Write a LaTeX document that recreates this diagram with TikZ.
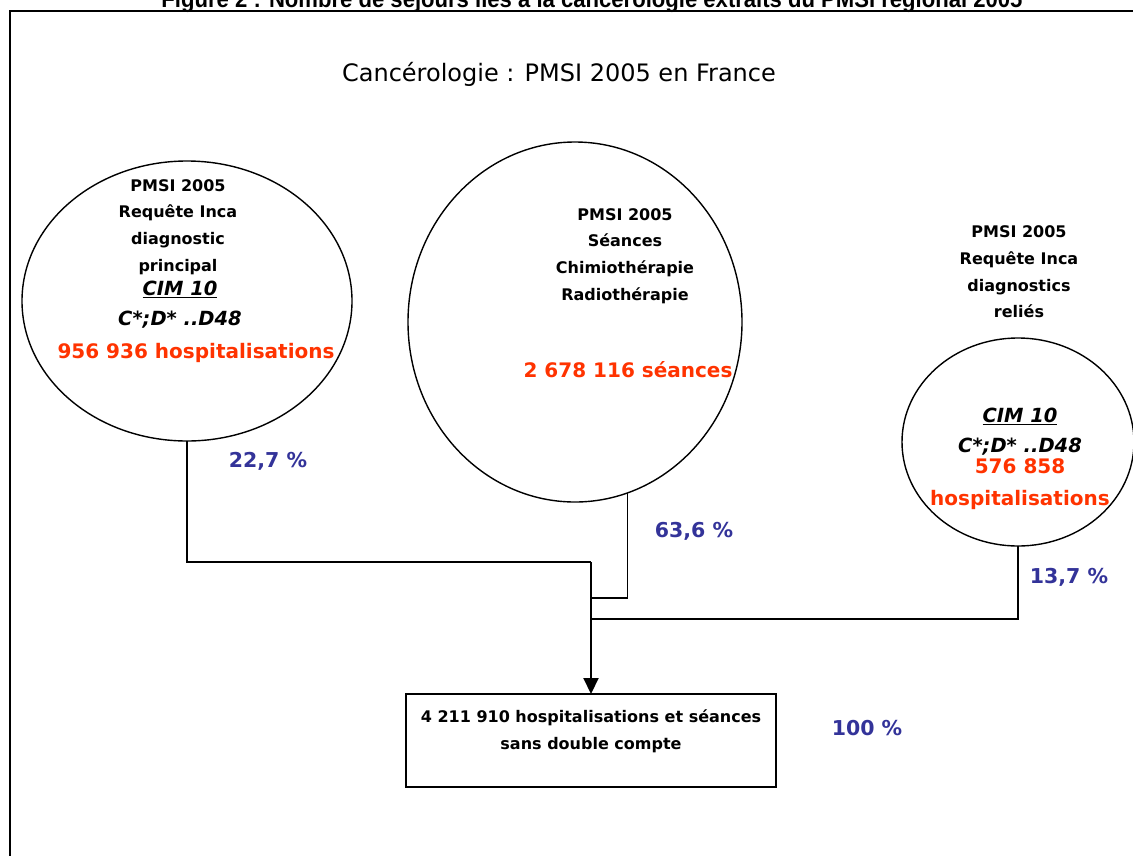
\documentclass[tikz,border=0pt]{standalone}
\usepackage{fontspec}
\setmainfont{DejaVu Sans}
\newfontfamily\titrefont[FakeStretch=0.92]{Liberation Sans}
\usetikzlibrary{shapes.geometric,arrows.meta}
\definecolor{rougeval}{RGB}{255,51,0}
\definecolor{bleupct}{RGB}{51,51,153}
\begin{document}
\begin{tikzpicture}[x=1pt,y=-1pt,
    bulle/.style={draw,ellipse,line width=1.4pt,inner sep=0pt,outer sep=0pt},
    texte/.style={align=center,font=\bfseries\fontsize{16}{26.6}\selectfont},
    cim/.style={align=center,font=\bfseries\itshape\fontsize{19.5}{30}\selectfont},
    valeur/.style={text=rougeval,align=center,font=\bfseries\fontsize{20}{32}\selectfont},
    pct/.style={text=bleupct,font=\bfseries\fontsize{20.5}{24}\selectfont},
    lien/.style={line width=1.3pt}]
    \useasboundingbox (0,0) rectangle (1133,855);
    \draw[line width=2.5pt] (10,870)--(10,11)--(1150,11);
    \node[anchor=base,font=\titrefont\bfseries\fontsize{24}{28}\selectfont] (figure) at (592,7)
        {Figure 2 : Nombre de séjours liés à la cancérologie extraits du PMSI régional 2005};
    \node[font=\fontsize{24}{28}\selectfont] (titre) at (559,74) {Cancérologie : PMSI 2005 en France};
    % les trois sources
    \node[bulle,minimum width=330pt,minimum height=280pt] (gauche) at (187,301) {};
    \node[bulle,minimum width=334pt,minimum height=360pt] (centre) at (575,322) {};
    \node[bulle,minimum width=232pt,minimum height=208pt] (droite) at (1018,442) {};
    \node[texte] (gaucheTxt) at (178,227) {PMSI 2005\\Requête Inca\\diagnostic\\principal};
    \node[cim] (gaucheCim) at (180,305) {\underline{CIM 10}\\C*;D* ..D48};
    \node[valeur] (gaucheVal) at (196,353) {956 936 hospitalisations};
    \node[texte] (centreTxt) at (625,256) {PMSI 2005\\Séances\\Chimiothérapie\\Radiothérapie};
    \node[valeur] (centreVal) at (628,370) {2 678 116 séances};
    \node[texte] (droiteTxt) at (1019,272) {PMSI 2005\\Requête Inca\\diagnostics\\reliés};
    \node[cim] (droiteCim) at (1020,432) {\underline{CIM 10}\\C*;D* ..D48};
    \node[valeur] (droiteVal) at (1020,484) {576 858\\hospitalisations};
    % pourcentages
    \node[pct] (pctG) at (268,461) {22,7 \%};
    \node[pct] (pctC) at (694,531) {63,6 \%};
    \node[pct] (pctD) at (1069,577) {13,7 \%};
    \node[pct] (pctT) at (867,728) {100 \%};
    % total
    \node[draw,line width=1.6pt,minimum width=370pt,minimum height=93pt,inner sep=0pt,outer sep=0pt] (total) at (591,740.5) {};
    \node[texte] (totalTxt) at (591,731) {4 211 910 hospitalisations et séances\\sans double compte};
    \coordinate (jA) at (591,562);
    \coordinate (jB) at (591,598);
    \coordinate (jC) at (591,619);
    \draw[lien] (gauche.south) |- (jA);
    \draw[lien] (centre.-73) |- (jB);
    \draw[lien] (droite.south) |- (jC);
    \draw[lien] (jA)--(jB);
    \draw[line width=2pt,-{Triangle[length=16pt,width=15pt]}] (jB)--(total.north);
\end{tikzpicture}
\end{document}
